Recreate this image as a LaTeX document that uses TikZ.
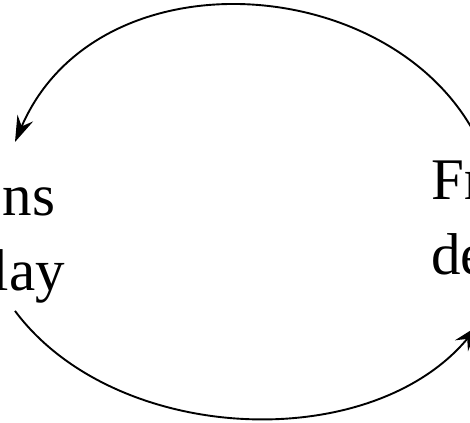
\documentclass[tikz,border=0pt]{standalone}
\usepackage{fontspec}
\setmainfont{Liberation Serif}
\usetikzlibrary{arrows.meta}

\begin{document}
\begin{tikzpicture}[x=1pt,y=1pt,
      >={Stealth[length=26pt,width=17pt,inset=9pt]},
      word/.style={inner sep=0pt,font=\fontsize{59pt}{75pt}\selectfont},
      loop/.style={draw=black,line width=1.9pt,->}
    ]
    \useasboundingbox (0,0) rectangle (470,422);
    \clip (0,0) rectangle (470,422);
    \node[word,align=center,anchor=base] (L) at (29,131) {ns\\lay};
    \node[word,align=left,anchor=base west] (R) at (431,147) {Fr\\de};
    % upper arc, right to left
    \draw[loop] (R.north east) .. controls +(-68,188) and +(85,198)
      .. ([xshift=-14pt,yshift=46pt]L.north);
    % lower arc, left to right
    \draw[loop] ([xshift=-14pt,yshift=-7pt]L.south) .. controls +(100,-134)
      and +(-108,-130) .. ([xshift=-9pt,yshift=-50pt]R.south east);
  \end{tikzpicture}
\end{document}
